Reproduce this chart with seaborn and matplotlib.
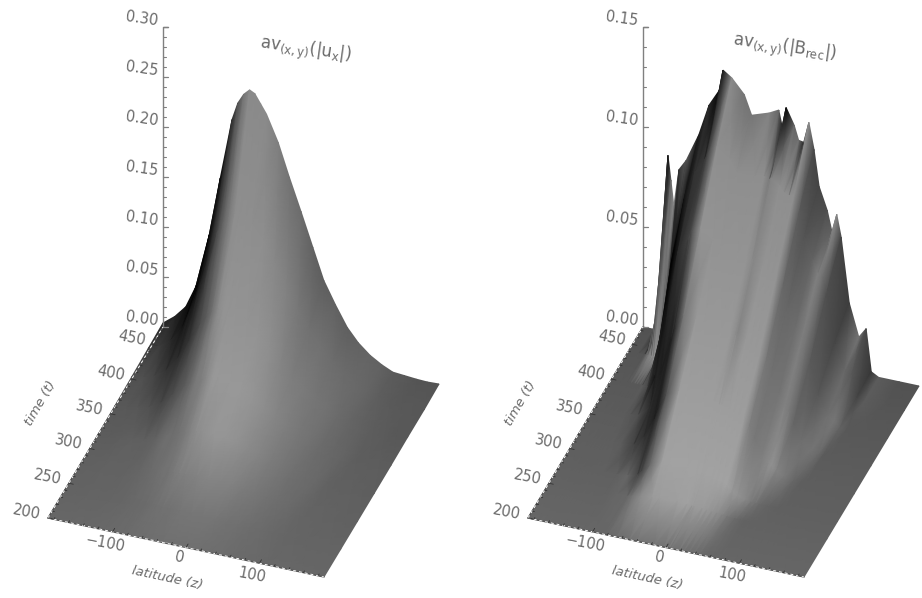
import numpy as np
import matplotlib
matplotlib.use("Agg")
import matplotlib.pyplot as plt
import seaborn as sns

# ---------- data ----------
times_u = [475, 440, 400, 360, 320, 280, 240, 200]
lat_u = [-188, -172, -157, -141, -125, -110, -94, -86, -78, -70, -63, -55, -47, -31, -16, 0,
         16, 31, 47, 63, 78, 94, 110, 125, 141, 157, 172, 188]
ux_475 = [.004,.013,.025,.051,.102,.161,.222,.240,.250,.2556,.253,.244,.235,.209,.177,.145,.112,.081,.059,.039,.026,.016,.009,.004,.003,.002,.0015,.002]
ux_440 = [.003,.008,.016,.032,.062,.098,.134,.144,.152,.156,.157,.155,.150,.135,.116,.096,.076,.057,.042,.029,.020,.012,.007,.004,.002,.002,.001,.001]
ux_400 = [.002,.004,.008,.016,.031,.050,.070,.078,.085,.089,.091,.091,.090,.083,.073,.061,.050,.038,.029,.020,.014,.009,.005,.003,.002,.001,.001,.001]
ux_360 = [.001,.002,.004,.007,.014,.024,.034,.039,.043,.046,.049,.050,.051,.049,.044,.038,.031,.025,.019,.013,.009,.006,.004,.002,.001,.001,.0005,.0005]
ux_320 = [.0005,.001,.002,.003,.005,.009,.014,.016,.019,.021,.023,.024,.025,.025,.024,.021,.018,.014,.011,.008,.006,.004,.002,.001,.001,.0005,.0003,.0003]
ux_280 = [.0002,.0004,.0007,.001,.002,.003,.005,.006,.007,.008,.009,.0095,.010,.011,.011,.010,.009,.007,.006,.004,.003,.002,.001,.0007,.0004,.0003,.0002,.0002]
ux_240 = [.0001,.0002,.0003,.0005,.0008,.0012,.0018,.002,.0025,.0028,.003,.0032,.0035,.0038,.0038,.0035,.003,.0025,.002,.0015,.001,.0007,.0004,.0003,.0002,.0001,.0001,.0001]
ux_200 = [.0001,.0001,.0001,.0002,.0003,.0004,.0006,.0007,.0008,.0009,.001,.0011,.0012,.0013,.0013,.0012,.001,.0008,.0006,.0005,.0003,.0002,.0002,.0001,.0001,.0001,.0001,.0001]

times_b = [475, 440, 400, 360, 320, 280, 255, 200]
lat_b = [-188,-174,-166,-162,-157,-154,-150,-146,-139,-129,-112,-98,-84,-79,-67,-50,-40,-16,-3,4,7,18,24,31,38,45,52,63,70,76,82,93,106,116,123,133,161,188]
b_475 = [0,0,0,.009,.051,.0885,.0765,.064,.0825,.088,.102,.118,.1265,.137,.134,.127,.1175,.1205,.123,.111,.125,.117,.110,.1095,.120,.107,.089,.078,.067,.077,.066,.034,.018,.023,.002,0,0,0]
b_440 = [0]*7 + [.001,.012,.050,.082,.096,.104,.108,.112,.107,.101,.101,.102,.101,.102,.099,.096,.095,.096,.088,.076,.066,.059,.059,.050,.026,.013,.012,.001] + [0]*3
b_400 = [0]*9 + [.006,.046,.070,.078,.082,.084,.080,.076,.076,.076,.075,.076,.073,.071,.070,.071,.064,.055,.046,.039,.037,.029,.014,.005,.003] + [0]*4
b_360 = [0]*9 + [.0005,.006,.024,.042,.048,.055,.055,.052,.052,.052,.051,.052,.050,.048,.047,.046,.041,.034,.026,.020,.018,.012,.005,.001] + [0]*5
b_320 = [0]*10 + [.001,.006,.016,.021,.030,.033,.032,.032,.031,.030,.030,.029,.028,.027,.026,.022,.016,.010,.006,.005,.003,.001] + [0]*6
b_280 = [0]*11 + [.0005,.002,.004,.008,.012,.012,.011,.011,.010,.010,.009,.008,.007,.006,.004,.002,.0008,.0003] + [0]*9
b_255 = [0]*13 + [.0004,.001,.002,.0024,.0024,.0022,.002,.002,.0018,.0015,.0012,.001,.0006,.0002] + [0]*11
b_200 = [0] * 38

lat_ticks = [-100, 0, 100]
time_ticks = [200, 250, 300, 350, 400, 450]
u_ticks = ["0.00", "0.05", "0.10", "0.15", "0.20", "0.25", "0.30"]
b_ticks = ["0.00", "0.05", "0.10", "0.15"]

# ---------- theme ----------
sns.set_theme(style="white")
plt.rcParams["font.family"] = ["DejaVu Sans"]
plt.rcParams["mathtext.fontset"] = "dejavusans"
gray = sns.color_palette("gray", as_cmap=True)
INK = "#6a6a6a"

fig = plt.figure(figsize=(9.22, 5.98), dpi=100)
ax = fig.add_axes([0, 0, 1, 1])
ax.set_xlim(0, 922)
ax.set_ylim(598, 0)
ax.axis("off")

LAT0, LAT1, T0, T1 = -188, 188, 200, 475
LVEC = np.array([276.0, 59.0])
TVEC = np.array([115.0, -191.0])
LIGHT = np.array([.25, -.80, .50])
LIGHT = LIGHT / np.linalg.norm(LIGHT)


def draw(dx, lats, times, rows, zmax_px, labels, zstep, title, title_xy):
    o = np.array([48.0 + dx, 518.0])

    def proj(lat, t, z=0.0):
        a = (np.asarray(lat, float) - LAT0) / (LAT1 - LAT0)
        b = (np.asarray(t, float) - T0) / (T1 - T0)
        return (o[0] + a * LVEC[0] + b * TVEC[0],
                o[1] + a * LVEC[1] + b * TVEC[1] - np.asarray(z, float) * zmax_px)

    lat = np.array(lats, float)
    tim = np.array(times, float)
    Z = np.array(rows, float)
    LL, TT = np.meshgrid(lat, tim)
    X, Y = proj(LL, TT, Z)

    # Lambert shading from the surface normals (model units are screen pixels)
    xm = (lat - LAT0) / (LAT1 - LAT0) * 293.0
    ym = (tim - T0) / (T1 - T0) * 348.0
    zm = Z * zmax_px / np.cos(np.radians(36))
    dzdy, dzdx = np.gradient(zm, ym, xm)
    norm = np.sqrt(dzdx**2 + dzdy**2 + 1)
    shade = (-dzdx * LIGHT[0] - dzdy * LIGHT[1] + LIGHT[2]) / norm
    b = (TT - T0) / (T1 - T0)
    C = np.clip(.70 * shade, 0, .60) * (1.12 - .22 * b)

    # vertical axis, behind the surface
    bx, by = proj(LAT0, T1)
    top = by - 300
    ax.plot([bx + 5, bx, bx], [top, top, by], color="#808080", lw=1, solid_joinstyle="miter")
    n_minor = 5
    for i in range(len(labels)):
        yy = by - i * zstep * zmax_px
        ax.plot([bx, bx + 5], [yy, yy], color="#808080", lw=.9)
        ax.text(bx - 21, yy - 8, labels[i], rotation=-8, ha="center", va="center",
                fontsize=10.5, color=INK)
        if i < len(labels) - 1:
            for m in range(1, n_minor):
                ym2 = yy - m * zstep * zmax_px / n_minor
                ax.plot([bx, bx + 3], [ym2, ym2], color="#808080", lw=.8)

    ax.pcolormesh(X, Y, C, shading="gouraud", cmap=gray, vmin=0, vmax=1, rasterized=True)

    # base edges
    for (l0, t0, l1, t1) in [(LAT0, T0, LAT1, T0), (LAT0, T0, LAT0, T1)]:
        xs, ys = proj([l0, l1], [t0, t1])
        ax.plot(xs, ys, color="#555555", lw=1.0)
        ax.plot(xs, ys, color="white", lw=.7, ls=(0, (3, 3)))

    # ticks on the base edges
    for v in range(-180, 181, 20):
        xs, ys = proj([v, v], [T0, T0 + (5 if v % 100 == 0 else 2.5)])
        ax.plot(xs, ys, color="#333333", lw=.6)
    for v in range(200, 471, 10):
        xs, ys = proj([LAT0, LAT0 + (6 if v % 50 == 0 else 3)], [v, v])
        ax.plot(xs, ys, color="#333333", lw=.6)

    # tick labels
    for v, off in zip(lat_ticks, [(-8, 12), (-7, 10), (-7, 12)]):
        xs, ys = proj(v, T0)
        s = "\u2212100" if v == -100 else str(v)
        ax.text(xs + off[0], ys + off[1], s, rotation=-11, ha="center", va="center",
                fontsize=10.5, color=INK)
    for v in time_ticks:
        xs, ys = proj(LAT0, v)
        ax.text(xs - 21, ys - 6, str(v), rotation=-11, ha="center", va="center",
                fontsize=10.5, color=INK)

    ax.text(167 + dx, 578, "latitude (z)", rotation=-12, ha="center", va="center",
            fontsize=9.5, style="italic", color=INK)
    ax.text(41 + dx, 403, "time (t)", rotation=60, ha="center", va="center",
            fontsize=9.5, style="italic", color=INK)
    ax.text(title_xy[0], title_xy[1], title, rotation=-8, ha="center", va="center",
            fontsize=12, color=INK)


draw(0, lat_u, times_u, [ux_475, ux_440, ux_400, ux_360, ux_320, ux_280, ux_240, ux_200],
     1000.0, u_ticks, .05, r"$\mathrm{av}_{(\mathrm{x,y})}(|\mathrm{u}_{\mathrm{x}}|)$", (305, 50))
draw(480, lat_b, times_b, [b_475, b_440, b_400, b_360, b_320, b_280, b_255, b_200],
     2000.0, b_ticks, .05, r"$\mathrm{av}_{(\mathrm{x,y})}(|\mathrm{B}_{\mathrm{rec}}|)$", (785, 48))

fig.savefig("out.png", dpi=100, facecolor="white")
